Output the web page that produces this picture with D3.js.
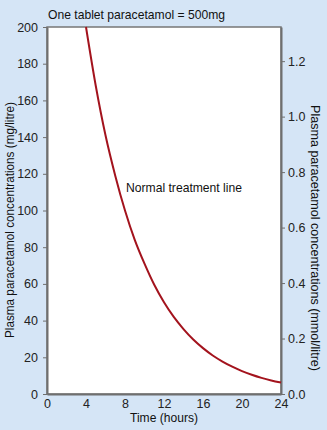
<!DOCTYPE html>
<html><head><meta charset="utf-8">
<script src="https://cdn.jsdelivr.net/npm/d3@7"></script>
<style>
html,body{margin:0;padding:0;background:#d5e5f6;}
svg{display:block;font-family:"Liberation Sans",Arial,sans-serif;}
</style></head>
<body><svg id="c" width="327" height="430"></svg>
<script>
const hours = [4, 5, 6, 7, 8, 9, 10, 11, 12, 13, 14, 15, 16, 17, 18, 19, 20, 21, 22, 23, 24];
const mgPerLitre = [200, 168, 141, 119, 100, 84, 71, 59.5, 50, 42, 35.4, 29.7, 25, 21, 17.7, 14.9, 12.5, 10.5, 8.8, 7.4, 6.25];
const xTicks = [0, 4, 8, 12, 16, 20, 24];
const yTicksLeft = [0, 20, 40, 60, 80, 100, 120, 140, 160, 180, 200];
const yTicksRight = [0.0, 0.2, 0.4, 0.6, 0.8, 1.0, 1.2];
const molarMass = 151.16;

const svg = d3.select("#c");
const m = {l: 47, r: 281, t: 27, b: 394};
const x = d3.scaleLinear().domain([0, 24]).range([m.l, m.r]);
const y = d3.scaleLinear().domain([0, 200]).range([m.b, m.t]);
const y2 = d3.scaleLinear().domain([0, 200 / molarMass]).range([m.b, m.t]);

svg.append("rect").attr("x", m.l).attr("y", m.t).attr("width", m.r - m.l).attr("height", m.b - m.t)
  .attr("fill", "#fff").attr("stroke", "#777").attr("stroke-width", 1.5);

const axisCol = "#6f6f6f";
function style(g) {
  g.selectAll(".domain").attr("stroke", axisCol).attr("stroke-width", 2);
  g.selectAll(".tick line").attr("stroke", axisCol).attr("stroke-width", 1);
  g.selectAll(".tick text").attr("fill", "#222").style("font-size", "12.5px")
    .style("font-family", "'Liberation Sans', Arial, sans-serif");
}
const gx = svg.append("g").attr("transform", `translate(0,${m.b})`)
  .call(d3.axisBottom(x).tickValues(xTicks).tickSize(0).tickPadding(5).tickSizeOuter(0));
style(gx);
const gy = svg.append("g").attr("transform", `translate(${m.l},0)`)
  .call(d3.axisLeft(y).tickValues(yTicksLeft).tickSize(4).tickPadding(5).tickSizeOuter(0));
style(gy);
const gy2 = svg.append("g").attr("transform", `translate(${m.r},0)`)
  .call(d3.axisRight(y2).tickValues(yTicksRight).tickSize(4).tickPadding(3).tickSizeOuter(0).tickFormat(d3.format(".1f")));
style(gy2);

const line = d3.line().x((d, i) => x(hours[i])).y(d => y(d)).curve(d3.curveMonotoneX);
svg.append("path").datum(mgPerLitre).attr("d", line).attr("fill", "none")
  .attr("stroke", "#a3131d").attr("stroke-width", 2);

function txt(s, len) {
  return svg.append("text").attr("font-size", 13).attr("fill", "#111")
    .attr("textLength", len).attr("lengthAdjust", "spacingAndGlyphs").text(s);
}
txt("One tablet paracetamol = 500mg", 177).attr("x", 48).attr("y", 19);
txt("Normal treatment line", 116).attr("x", 126).attr("y", 192);
txt("Time (hours)", 68).attr("x", 130).attr("y", 422);
txt("Plasma paracetamol concentrations (mg/litre)", 236)
  .attr("transform", "translate(14,338) rotate(-90)");
txt("Plasma paracetamol concentrations (mmol/litre)", 266)
  .attr("transform", "translate(311,105) rotate(90)");
</script></body></html>
